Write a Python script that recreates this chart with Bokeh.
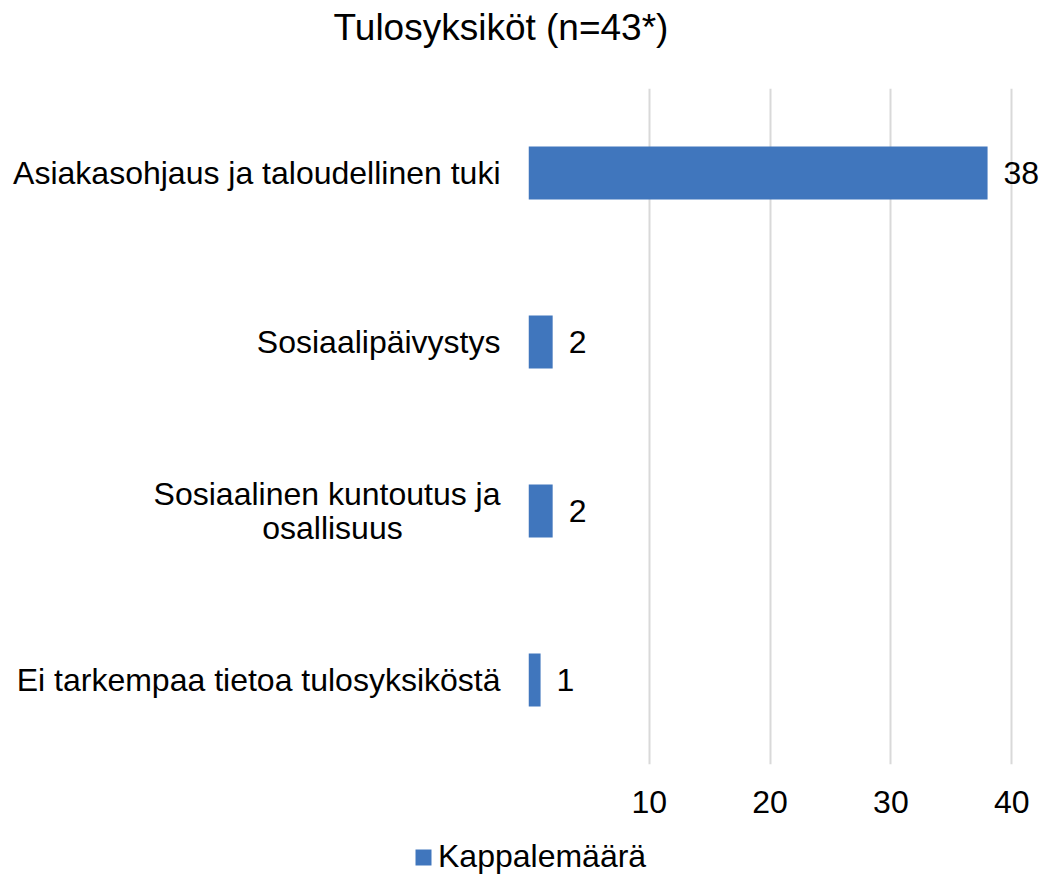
from bokeh.plotting import figure
from bokeh.models import FactorRange, Range1d, FixedTicker, Legend, LegendItem, ColumnDataSource, LabelSet
from bokeh.core.properties import value
from bokeh.embed import file_html
from bokeh.resources import INLINE

title = "Tulosyksiköt (n=43*)"
categories = [
    "Asiakasohjaus ja taloudellinen tuki",
    "Sosiaalipäivystys",
    "Sosiaalinen kuntoutus ja\nosallisuus",
    "Ei tarkempaa tietoa tulosyksiköstä",
]
values = [38, 2, 2, 1]
x_ticks = [0, 10, 20, 30, 40]
series_name = "Kappalemäärä"

FONT = "Liberation Sans"
BLUE = "#4076BD"
W = 1043


def centred(label):
    # pad shorter lines of a multi-line label so the right-aligned axis text looks centred
    lines = label.split("\n")
    if len(lines) == 1:
        return label
    longest = max(len(l) for l in lines)
    out = [lines[0]]
    for l in lines[1:]:
        pad = int(round((longest - len(l)) * 0.79))
        out.append(l + "\u00a0" * pad)
    return "\n".join(out)


display = [centred(c) for c in categories]

# ---------- title strip ----------
TH = 56
p0 = figure(width=W, height=TH, x_range=Range1d(0, W), y_range=Range1d(0, TH),
            output_backend="svg", toolbar_location=None, min_border=0)
p0.axis.visible = False
p0.grid.visible = False
p0.outline_line_color = None
tsrc = ColumnDataSource(dict(x=[500.5], y=[TH - 27], lbl=[title]))
p0.add_layout(LabelSet(x="x", y="y", text="lbl", source=tsrc, text_align="center",
                       text_baseline="middle", text_font=value(FONT),
                       text_font_size="37px", text_color="#000000"))

# ---------- main chart ----------
p = figure(
    frame_width=515, frame_height=676,
    y_range=FactorRange(factors=list(reversed(display))),
    x_range=Range1d(0, 42.63),
    output_backend="svg", toolbar_location=None,
    min_border_left=528, min_border_right=0, min_border_top=88 - TH, min_border_bottom=64,
)
p.outline_line_color = None

src = ColumnDataSource(dict(cat=display, val=values, lbl=[str(v) for v in values]))
r = p.hbar(y="cat", right="val", left=0, height=0.314, source=src, fill_color=BLUE, line_color=None)

labels = LabelSet(x="val", y="cat", text="lbl", source=src, x_offset=16, y_offset=0,
                  text_align="left", text_baseline="middle", text_font=value(FONT),
                  text_font_size="32px", text_color="#000000")
p.add_layout(labels)

xa = p.xaxis[0]
xa.ticker = FixedTicker(ticks=x_ticks)
xa.major_label_overrides = {0: ""}
xa.axis_line_color = None
xa.major_tick_line_color = None
xa.minor_tick_line_color = None
xa.major_tick_out = 0
xa.major_tick_in = 0
xa.major_label_text_font = FONT
xa.major_label_text_font_size = "32px"
xa.major_label_text_color = "#000000"
xa.major_label_standoff = 26

p.xgrid.ticker = FixedTicker(ticks=x_ticks)
p.xgrid.grid_line_color = "#d9d9d9"
p.xgrid.grid_line_width = 2
p.ygrid.grid_line_color = None

ya = p.yaxis[0]
ya.axis_line_color = None
ya.major_tick_line_color = None
ya.minor_tick_line_color = None
ya.major_tick_out = 0
ya.major_tick_in = 0
ya.major_label_text_font = FONT
ya.major_label_text_font_size = "32px"
ya.major_label_text_color = "#000000"
ya.major_label_text_line_height = 0.95
ya.major_label_standoff = 28

# ---------- legend strip ----------
LH = 48
p2 = figure(width=W, height=LH, x_range=Range1d(0, W), y_range=Range1d(0, LH),
            output_backend="svg", toolbar_location=None, min_border=0)
p2.axis.visible = False
p2.grid.visible = False
p2.outline_line_color = None
# legend proxy: same bar style, kept outside the visible range of this strip
proxy = ColumnDataSource(dict(y=[-10 * LH], right=[values[0]]))
r2 = p2.hbar(y="y", right="right", left=0, height=1, source=proxy,
             fill_color=BLUE, line_color=None)
legend = Legend(items=[LegendItem(label=series_name, renderers=[r2])],
                location=(413, 1), orientation="horizontal",
                label_text_font=FONT, label_text_font_size="32px",
                label_text_color="#000000", glyph_width=20, glyph_height=20,
                label_standoff=5, padding=0, margin=0, spacing=0,
                border_line_color=None, background_fill_alpha=0)
p2.add_layout(legend, "center")

open("out.html", "w").write(file_html([p0, p, p2], INLINE))
